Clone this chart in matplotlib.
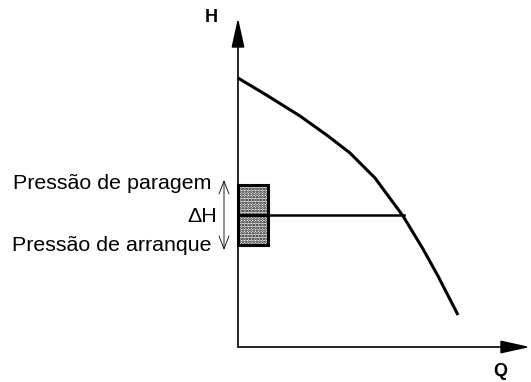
import matplotlib.pyplot as plt
from matplotlib.patches import Rectangle

plt.rcParams['font.family'] = ['Liberation Sans', 'DejaVu Sans']
plt.rcParams['hatch.linewidth'] = 1.3

# pump curve H(Q) (arbitrary units)
q_curve = [0, 30, 62, 90, 112, 137, 165, 185, 200, 220]
h_curve = [269, 251, 231, 211, 194, 169, 131, 98, 71, 32]

# pressure switch band
h_stop = 162
h_start = 102
h_mid = 132
q_mid = 166
box_w = 30

labels = ['Pressão de paragem', '\u0394H', 'Pressão de arranque']

fig = plt.figure(figsize=(5.31, 3.82), dpi=100)
ax = fig.add_axes([0, 0, 1, 1])
ax.set_xlim(-238, 293)
ax.set_ylim(-35, 347)
ax.axis('off')

# axes with arrows
head = '-|>,head_length=0.9,head_width=0.2'
ax.annotate('', xy=(292, 0), xytext=(0, 0),
            arrowprops=dict(arrowstyle=head, mutation_scale=20, lw=1.2,
                            color='black', shrinkA=0, shrinkB=0))
ax.annotate('', xy=(0, 329), xytext=(0, 0),
            arrowprops=dict(arrowstyle=head, mutation_scale=20, lw=1.2,
                            color='black', shrinkA=0, shrinkB=0))
ax.text(-27, 330, 'H', fontsize=13, fontweight='bold', ha='center', va='center')
ax.text(262, -25, 'Q', fontsize=13, fontweight='bold', ha='center', va='center')

# curve
ax.plot(q_curve, h_curve, color='black', lw=2.2, solid_capstyle='butt',
        solid_joinstyle='round')

# horizontal line at operating point
ax.plot([0, q_mid], [h_mid, h_mid], color='black', lw=1.8)

# hatched box
ax.add_patch(Rectangle((0, h_start), box_w, h_stop - h_start, facecolor='white',
                       edgecolor='black', lw=2.2, hatch='......', zorder=3))
ax.plot([0, box_w], [h_mid, h_mid], color='black', lw=2.2, zorder=4)

# delta H double arrow
ax.annotate('', xy=(-14, 167), xytext=(-14, 97),
            arrowprops=dict(arrowstyle='<->,head_length=0.62,head_width=0.24',
                            mutation_scale=15, lw=0.6, color='black',
                            shrinkA=0, shrinkB=0))

ax.text(-27, 158, labels[0], fontsize=15.4, ha='right', va='baseline')
ax.text(-21, 125, labels[1], fontsize=15.4, ha='right', va='baseline')
ax.text(-26, 96, labels[2], fontsize=15.4, ha='right', va='baseline')

fig.savefig('out.png', dpi=100)
